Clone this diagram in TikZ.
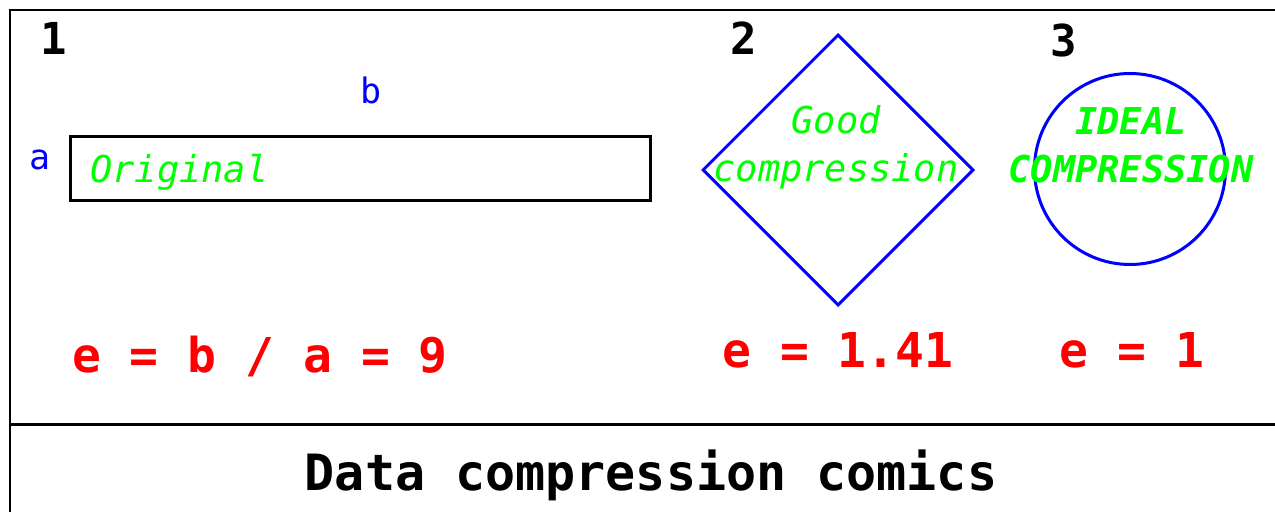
\documentclass[tikz,border=0pt]{standalone}
\usepackage{fontspec}
\setmonofont{DejaVu Sans Mono}[BoldFont={DejaVu Sans Mono Bold},ItalicFont={DejaVu Sans Mono Oblique},BoldItalicFont={DejaVu Sans Mono Bold Oblique}]
\usetikzlibrary{shapes.geometric,positioning}

\begin{document}
\begin{tikzpicture}[x=1bp, y=-1bp, every node/.style={inner sep=0pt},
  panelnum/.style={font=\ttfamily\bfseries\fontsize{44bp}{50bp}\selectfont, anchor=base},
  side/.style={text=blue, font=\ttfamily\fontsize{35bp}{40bp}\selectfont, anchor=base},
  inside/.style={text=green, align=center, font=\ttfamily\itshape\fontsize{37bp}{48bp}\selectfont},
  result/.style={text=red, font=\ttfamily\bfseries\fontsize{48bp}{54bp}\selectfont, anchor=base},
  shape1/.style={draw=blue, line width=3bp, inner sep=0pt}]
\useasboundingbox (0,0) rectangle (1275,512);
% frame
\draw[line width=2.5bp] (10,530) -- (10,10) -- (1290,10);
\draw[line width=3bp] (10,425) -- (1290,425);
% panel 1
\node[panelnum] (n1) at (54,55) {1};
\node[draw, line width=3bp, minimum width=579bp, minimum height=64bp] (orig) at (360.5,169) {};
\node[inside, anchor=base west] (origtxt) at (90,183) {Original};
\node[side] (sa) at (40,170) {a};
\node[side] (sb) at (371,104) {b};
\node[result] (e1) at (260,373) {e = b / a = 9};
% panel 2
\node[panelnum] (n2) at (744,55) {2};
\node[shape1, diamond, minimum width=271bp, minimum height=271bp] (good) at (838,170) {};
\node[inside] (goodtxt) at (836,147) {Good\\compression};
\node[result] (e2) at (838,368) {e = 1.41};
% panel 3
\node[panelnum] (n3) at (1064,57) {3};
\node[shape1, circle, minimum size=191bp] (ideal) at (1130,169) {};
\node[inside, font=\ttfamily\bfseries\itshape\fontsize{37bp}{48bp}\selectfont] (idealtxt) at (1131,145) {IDEAL\\COMPRESSION};
\node[result] (e3) at (1132,368) {e = 1};
% caption
\node[font=\ttfamily\bfseries\fontsize{50bp}{56bp}\selectfont, anchor=base] (title) at (651,490) {Data compression comics};
\end{tikzpicture}
\end{document}
